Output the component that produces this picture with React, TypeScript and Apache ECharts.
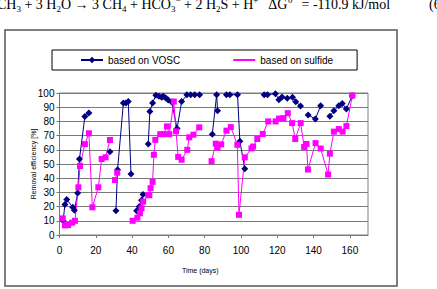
import React, { useEffect, useRef } from "react";
import * as echarts from "echarts";

// Time (days) and removal efficiency (%) — null marks a break in the line
const vosDays: (number | null)[] = [
  2, 3, 4, 7.3, 8.2, 10, 11, 14, 16.2, null,
  27.8, null,
  31.1, 32, 35.2, 36.6, 37.9, 39.4, null,
  42.5, 44, 45.2, 46, null,
  48.9, 49.8, 51.3, 53.1, 54.8, 56.3, 57.2, 58.6, 59.9, 61.8, 64.8, 67.3, 70.2, 72.3, 74.5, 77.2, null,
  84.2, 86.6, 87.1, null,
  92, 93.9, 98.1, 99.4, 102.1, null,
  112.8, 114.6, 119, 120.9, 122.6, 125.5, 128.4, 130.2, 132.8, null,
  137, 141, 143.9, null,
  149, 151.2, 153.9, 155.8, 158.1, 161.3,
];
const vosValues: (number | null)[] = [
  10, 21.5, 25, 19.5, 17.5, 29.5, 53.5, 83.5, 86, null,
  58.7, null,
  17, 46, 93, 93, 94, 43, null,
  17, 20, 24.5, 28.5, null,
  64, 87, 93, 98.4, 97.7, 97, 97.7, 96.5, 95, 93.7, 75, 94, 98.7, 98.7, 98.7, 98.7, null,
  71, 98.8, 87.5, null,
  98.8, 98.8, 98.8, 66, 46.7, null,
  98.8, 98.8, 99.5, 95.3, 97.2, 96.3, 97, 93.9, 90.8, null,
  84.5, 81.7, 91, null,
  83.7, 87.5, 91, 92.6, 88.8, 98,
];

const sulDays: (number | null)[] = [
  1.8, 3, 4.8, 7, 8.5, 10.4, 11.3, 14, 16.2, 18.1, 21.4, 23.2, 25.4, 27.8, null,
  30.6, 31.8, null,
  40.3, 42.9, 44.3, 45.2, 46.1, 48.9, 49.5, 50.2, 51.3, 52, 52.8, 55.5, 57.5, 59.2, 60.5, 63, 64.2, 65.4, 67.3, 70.4, 71.5, 73.8, 77, null,
  83.8, 86.1, 87.1, 89.1, 92, 94.4, 98, 98.9, 102.1, 105.8, 106.7, 109, 112, 115, 119.1, 121, 123.4, 125.8, 128.2, 129.9, 132.9, 134.8, 136.1, 136.9, 141.1, 143.9, 148, 149, 151.2, 153.9, 156, 158.1, 161.4,
];
const sulValues: (number | null)[] = [
  11.7, 6.8, 7, 8.7, 10, 33.6, 48.6, 64, 71.6, 19.5, 33.6, 53.5, 54.7, 66.9, null,
  38.7, 43.9, null,
  10, 12.2, 15.3, 18.8, 23.5, 28.2, 28, 33, 37.4, 56.5, 67, 71, 71, 76.5, 71, 94, 73, 55, 53, 60, 68.8, 70.6, 75.8, null,
  52, 64.3, 61.5, 63.8, 73.5, 76, 63.5, 14.2, 54.7, 61, 62.3, 67.6, 71.1, 80, 80, 82, 82.3, 85.8, 78.8, 67.6, 78.8, 62, 64.1, 46.1, 64.7, 60.9, 42.6, 57.3, 72.8, 74.6, 72.8, 76.7, 98.2,
];

const seriesNames = ["based on VOSC", "based on sulfide"];
const xTitle = "Time (days)";
const yTitle = "Removal efficiency [%]";

const toPairs = (days: (number | null)[], vals: (number | null)[]) =>
  days.map((d, i) => (d === null || vals[i] === null ? ["-", "-"] : [d, vals[i]]));

export default function App() {
  const ref = useRef<HTMLDivElement>(null);
  useEffect(() => {
    if (!ref.current) return;
    const chart = echarts.init(ref.current, null, { renderer: "svg" });
    const font = "'Liberation Sans', Arial, sans-serif";
    const serif = "'Liberation Serif', 'Times New Roman', serif";
    chart.setOption({
      animation: false,
      backgroundColor: "#ffffff",
      textStyle: { fontFamily: font },
      grid: {
        left: 59.5,
        right: 69,
        top: 93,
        bottom: 54,
        show: true,
        borderColor: "#808080",
        borderWidth: 1,
      },
      legend: {
        left: 52,
        top: 50,
        padding: [5, 24, 5, 28],
        borderColor: "#000",
        borderWidth: 1,
        itemGap: 52,
        itemWidth: 22,
        itemHeight: 8,
        textStyle: { fontSize: 10, color: "#000", fontFamily: font },
        data: [
          { name: seriesNames[0] },
          { name: seriesNames[1], itemStyle: { opacity: 0 } },
        ],
      },
      xAxis: {
        type: "value",
        min: 0,
        max: 170,
        interval: 20,
        name: xTitle,
        nameLocation: "middle",
        nameGap: 32,
        nameMoveOverlap: false,
        nameTextStyle: { fontSize: 7, color: "#000", padding: [0, 27, 0, 0] },
        axisLine: { show: true, lineStyle: { color: "#777", width: 1 } },
        axisTick: { show: true, length: 3, lineStyle: { color: "#777" } },
        axisLabel: { fontSize: 10, color: "#000", margin: 10, showMaxLabel: false },
        splitLine: { show: false },
      },
      yAxis: {
        type: "value",
        min: 0,
        max: 100,
        interval: 10,
        name: yTitle,
        nameLocation: "middle",
        nameGap: 23,
        nameMoveOverlap: false,
        nameTextStyle: { fontSize: 7, color: "#000" },
        axisLine: { show: true, lineStyle: { color: "#777", width: 1 } },
        axisTick: { show: true, length: 3, lineStyle: { color: "#777" } },
        axisLabel: { fontSize: 10, color: "#000", margin: 5 },
        splitLine: { show: true, lineStyle: { color: "#7a7a7a", width: 1 } },
      },
      graphic: [
        {
          type: "rect",
          silent: true,
          shape: { x: 5, y: 30, width: 392, height: 256 },
          style: { fill: "none", stroke: "#555", lineWidth: 1.5 },
        },
        {
          type: "text",
          silent: true,
          x: -3,
          y: 13.5,
          style: {
            text:
              "{n|CH}{s|3}{n| + 3 H}{s|2}{n|O → 3 CH}{s|4}{n| + HCO}{s|3}{p|−}{n| + 2 H}{s|2}{n|S + H}{p|+}{n|   ΔG}{p|0′}{n|  = -110.9 kJ/mol}",
            verticalAlign: "bottom",
            rich: {
              n: { fontSize: 14, fontFamily: serif, fill: "#000", lineHeight: 18, verticalAlign: "middle" },
              s: { fontSize: 9, fontFamily: serif, fill: "#000", verticalAlign: "bottom" },
              p: { fontSize: 9, fontFamily: serif, fill: "#000", verticalAlign: "top" },
            },
          },
        },
        {
          type: "text",
          silent: true,
          x: 429,
          y: 13.5,
          style: {
            text: "(6)",
            verticalAlign: "bottom",
            fontSize: 14,
            fontFamily: serif,
            fill: "#000",
            lineHeight: 18,
          },
        },
      ],
      series: [
        {
          name: seriesNames[0],
          type: "line",
          data: toPairs(vosDays, vosValues),
          connectNulls: false,
          symbol: "diamond",
          symbolSize: 7,
          lineStyle: { color: "#000080", width: 1 },
          itemStyle: { color: "#000080" },
        },
        {
          name: seriesNames[1],
          type: "line",
          data: toPairs(sulDays, sulValues),
          connectNulls: false,
          symbol: "rect",
          symbolSize: 6,
          lineStyle: { color: "#ff00ff", width: 1 },
          itemStyle: { color: "#ff00ff" },
        },
      ],
    });
    return () => chart.dispose();
  }, []);
  return (
    <div
      ref={ref}
      style={{ position: "fixed", left: 0, top: 0, width: 437, height: 289 }}
    />
  );
}
